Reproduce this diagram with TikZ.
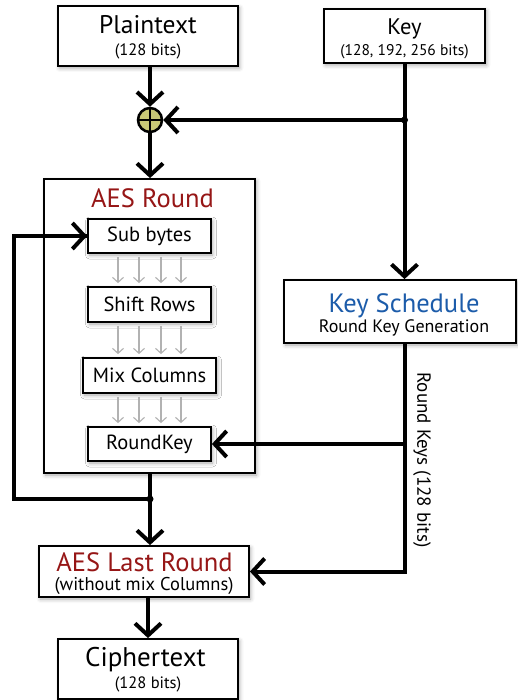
\documentclass[tikz,border=0pt]{standalone}
\usepackage{fontspec}
\setmainfont{PT Sans}
\usetikzlibrary{arrows.meta,shadows.blur,calc}
\definecolor{aesred}{RGB}{150,22,22}
\definecolor{ksblue}{RGB}{28,92,170}
\definecolor{xorfill}{RGB}{200,200,118}
\begin{document}
\begin{tikzpicture}[x=1pt,y=-1pt,
  box/.style={draw, line width=1.8pt, fill=white, inner sep=0pt, align=center,
    blur shadow={shadow xshift=1.5pt, shadow yshift=-2pt, shadow blur radius=4pt, shadow opacity=35}},
  txt/.style={anchor=base, inner sep=0pt},
  mid/.style={font=\fontsize{20.5}{22}\selectfont},
  small/.style={txt, font=\fontsize{16.5}{18}\selectfont},
  main/.style={line width=4pt},
  flow/.style={main, -{Straight Barb[length=12pt,width=26pt]}},
  thin/.style={line width=1.1pt, black!30, -{Straight Barb[length=5pt,width=11pt]}},
  dot/.style={circle, fill=black, inner sep=0pt, minimum size=7pt}]
\useasboundingbox (0,0) rectangle (518,700);

% inputs
\node[box, minimum width=180pt, minimum height=60pt] (pt) at (148,36) {};
\node[txt, font=\fontsize{25.5}{26}\selectfont] (ptname) at (148,34) {Plaintext};
\node[small] (ptbits) at (148,56) {(128 bits)};

\node[box, minimum width=161pt, minimum height=54pt] (key) at (404.5,36) {};
\node[txt, font=\fontsize{22.5}{24}\selectfont] (keyname) at (404.5,35) {Key};
\node[txt, font=\fontsize{15.5}{18}\selectfont] (keybits) at (404.5,56) {(128, 192, 256 bits)};

% initial key addition
\node[circle, draw, line width=2.5pt, fill=xorfill, minimum size=24pt, inner sep=0pt] (xor) at (150,120) {};
\draw[line width=2.5pt] (xor.north) -- (xor.south) (xor.west) -- (xor.east);

% AES round block
\node[box, minimum width=211pt, minimum height=294pt] (round) at (149.5,326) {};
\node[txt, text=aesred, font=\fontsize{26.5}{28}\selectfont] (rtitle) at (152.5,208) {AES Round};
\node[box, mid, minimum width=123pt, minimum height=34pt] (sub) at (149.5,236) {Sub bytes};
\node[box, mid, minimum width=123pt, minimum height=35pt] (shift) at (149.5,304.5) {Shift Rows};
\node[box, mid, minimum width=133pt, minimum height=35pt] (mix) at (149.5,375.5) {Mix Columns};
\node[box, mid, minimum width=123pt, minimum height=34pt] (rkey) at (149.5,444) {RoundKey};

% key schedule
\node[box, minimum width=232pt, minimum height=63pt] (ks) at (400,311.5) {};
\node[txt, text=ksblue, font=\fontsize{26.5}{28}\selectfont] (ksname) at (404,312) {Key Schedule};
\node[txt, font=\fontsize{18}{20}\selectfont] (ksgen) at (404,332) {Round Key Generation};

% last round and output
\node[box, minimum width=210pt, minimum height=51pt] (last) at (144,571.5) {};
\node[txt, text=aesred, font=\fontsize{26.5}{28}\selectfont] (lastname) at (144.5,571) {AES Last Round};
\node[txt, font=\fontsize{18.5}{20}\selectfont] (lastnote) at (144,590) {(without mix Columns)};

\node[box, minimum width=180pt, minimum height=60pt] (ct) at (148,669) {};
\node[txt, font=\fontsize{27}{28}\selectfont] (ctname) at (145.5,666) {Ciphertext};
\node[small] (ctbits) at (148,688) {(128 bits)};

% byte-column arrows inside the round
\foreach \dx in {-31.5,-10.5,11.5,31.5} {
  \draw[thin] ($(sub.south)+(\dx,3)$) -- ($(shift.north)+(\dx,-3)$);
  \draw[thin] ($(shift.south)+(\dx,3)$) -- ($(mix.north)+(\dx,-3)$);
  \draw[thin] ($(mix.south)+(\dx,3)$) -- ($(rkey.north)+(\dx,-3)$);
}

% data path
\draw[flow] (pt.south -| xor) -- (xor.north);
\draw[flow] (xor.south) -- (xor.south |- round.north);
\coordinate (j1) at (key.south |- xor);
\node[dot] (j1dot) at (j1) {};
\draw[main] (key.south) -- (j1);
\draw[flow] (j1) -- (xor.east);
\draw[flow] (j1) -- (j1 |- ks.north);

\coordinate (j2) at (150,499);
\node[dot] (j2dot) at (j2) {};
\draw[main] (round.south -| j2) -- (j2);
\draw[flow] (j2) -- (j2 |- last.north);
\coordinate (loop) at (14,499);
\draw[main, line join=miter] (j2) -- (loop) |- (sub.west);
\draw[flow] ($(loop |- sub.west)+(20,0)$) -- (sub.west);
\draw[flow] (last.south -| pt) -- (ct.north);

% round keys
\coordinate (rk) at (key.south |- ks.south);
\coordinate (rkend) at (key.south |- last.east);
\draw[main, line join=miter] (rk) -- (rkend) -- ++(2,0);
\draw[flow] (rkend) -- (last.east);
\draw[flow] (rk |- rkey.east) -- (rkey.east);
\node[rotate=-90, font=\fontsize{19}{20}\selectfont] (rklabel) at (422,460) {Round Keys (128 bits)};
\end{tikzpicture}
\end{document}
